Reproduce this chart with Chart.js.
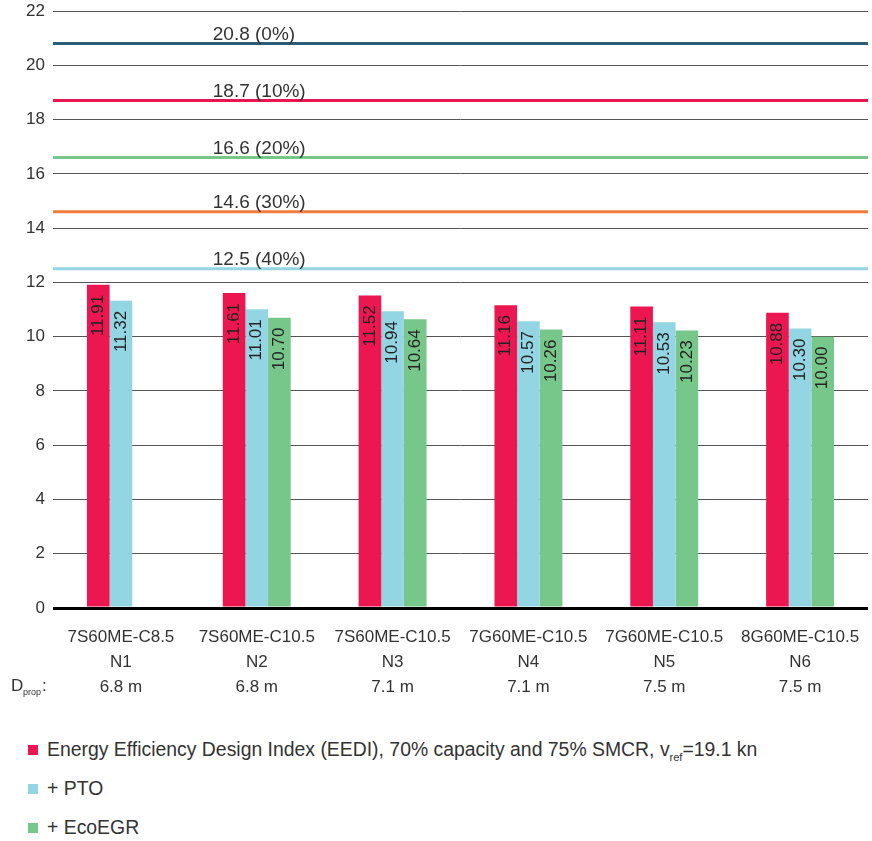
<!DOCTYPE html>
<html>
<head>
<meta charset="utf-8">
<script src="https://cdn.jsdelivr.net/npm/chart.js@4"></script>
<style>
  body { margin: 0; background: #fff; font-family: 'Liberation Sans', Arial, sans-serif; color: #333; }
  #wrap { width: 872px; height: 710px; }
  #legend { margin: 20px 0 0 0; padding: 0; list-style: none; }
  #legend li { position: relative; height: 39px; line-height: 39px; font-size: 19.4px; padding-left: 47px; }
  #legend li span.box { position: absolute; left: 28px; top: 15px; width: 10px; height: 10px; }
  #legend sub { font-size: 11px; vertical-align: -5px; }
</style>
</head>
<body>
<div id="wrap"><canvas id="myChart" width="872" height="710"></canvas></div>
<ul id="legend"></ul>
<script>
(() => {
  'use strict'

  const engines = ['7S60ME-C8.5', '7S60ME-C10.5', '7S60ME-C10.5', '7G60ME-C10.5', '7G60ME-C10.5', '8G60ME-C10.5']
  const names = ['N1', 'N2', 'N3', 'N4', 'N5', 'N6']
  const dprop = ['6.8 m', '6.8 m', '7.1 m', '7.1 m', '7.5 m', '7.5 m']

  const eedi = [11.91, 11.61, 11.52, 11.16, 11.11, 10.88]
  const pto = [11.32, 11.01, 10.94, 10.57, 10.53, 10.30]
  const ecoEgr = [null, 10.70, 10.64, 10.26, 10.23, 10.00]

  const refValues = [20.8, 18.7, 16.6, 14.6, 12.5]
  const refLabels = ['20.8 (0%)', '18.7 (10%)', '16.6 (20%)', '14.6 (30%)', '12.5 (40%)']
  const refColors = ['#2a5f78', '#e8174f', '#77c68a', '#f07b3a', '#93d5e3']

  const seriesNames = [
    'Energy Efficiency Design Index (EEDI), 70% capacity and 75% SMCR, v<sub>ref</sub>=19.1 kn',
    '+ PTO',
    '+ EcoEGR'
  ]
  const seriesColors = ['#ec1651', '#93d5e3', '#77c68a']

  const font = "'Liberation Sans', Arial, sans-serif"
  const textColor = '#333'

  const refLines = {
    id: 'refLines',
    afterDatasetsDraw (chart) {
      const { ctx, chartArea, scales } = chart
      const xLabel = scales.x.getPixelForValue(1) - 44
      ctx.save()
      refValues.forEach((v, i) => {
        const y = scales.y.getPixelForValue(v)
        ctx.strokeStyle = refColors[i]
        ctx.lineWidth = 3
        ctx.beginPath()
        ctx.moveTo(chartArea.left, y)
        ctx.lineTo(chartArea.right, y)
        ctx.stroke()
        ctx.fillStyle = textColor
        ctx.font = '19px ' + font
        ctx.textAlign = 'left'
        ctx.textBaseline = 'alphabetic'
        ctx.fillText(refLabels[i], xLabel, y - 4)
      })
      ctx.restore()
    }
  }

  const barValues = {
    id: 'barValues',
    afterDatasetsDraw (chart) {
      const { ctx } = chart
      ctx.save()
      ctx.fillStyle = '#222'
      ctx.font = '17px ' + font
      ctx.textAlign = 'right'
      ctx.textBaseline = 'middle'
      chart.data.datasets.forEach((ds, di) => {
        chart.getDatasetMeta(di).data.forEach((bar, i) => {
          if (ds.data[i] == null) return
          ctx.save()
          ctx.translate(bar.x, bar.y + 10)
          ctx.rotate(-Math.PI / 2)
          ctx.fillText(ds.data[i].toFixed(2), 0, 0)
          ctx.restore()
        })
      })
      ctx.restore()
    }
  }

  const dpropLabel = {
    id: 'dpropLabel',
    afterDraw (chart) {
      const { ctx } = chart
      ctx.save()
      ctx.fillStyle = textColor
      ctx.textBaseline = 'alphabetic'
      ctx.font = '17px ' + font
      ctx.fillText('D', 11, 691)
      ctx.font = '9px ' + font
      ctx.fillText('prop', 23, 695)
      ctx.font = '17px ' + font
      ctx.fillText(':', 42, 691)
      ctx.restore()
    }
  }

  const ctx = document.getElementById('myChart')
  new Chart(ctx, {
    type: 'bar',
    data: {
      labels: engines.map((e, i) => [e, names[i], dprop[i]]),
      datasets: [
        { label: 'EEDI', data: eedi, backgroundColor: seriesColors[0] },
        { label: '+ PTO', data: pto, backgroundColor: seriesColors[1] },
        { label: '+ EcoEGR', data: ecoEgr, backgroundColor: seriesColors[2] }
      ]
    },
    options: {
      responsive: false,
      animation: false,
      layout: { padding: { top: 11, right: 4 } },
      datasets: {
        bar: { categoryPercentage: 0.5, barPercentage: 1 }
      },
      scales: {
        x: {
          grid: { display: false },
          border: { display: false },
          ticks: {
            color: textColor,
            padding: 9,
            maxRotation: 0,
            font: { family: font, size: 17, lineHeight: 1.47 }
          },
          afterFit (s) { s.height = 102 }
        },
        y: {
          min: 0,
          max: 22,
          border: { display: false },
          grid: {
            drawTicks: false,
            color: c => c.tick.value === 0 ? '#000' : '#555',
            lineWidth: c => c.tick.value === 0 ? 3 : 1
          },
          ticks: {
            stepSize: 2,
            padding: 8,
            color: textColor,
            font: { family: font, size: 17 }
          },
          afterFit (s) { s.width = 53; s.paddingTop = 0 }
        }
      },
      plugins: {
        legend: { display: false },
        tooltip: { enabled: false }
      }
    },
    plugins: [refLines, barValues, dpropLabel]
  })

  const legend = document.getElementById('legend')
  seriesNames.forEach((name, i) => {
    const li = document.createElement('li')
    li.innerHTML = '<span class="box" style="background:' + seriesColors[i] + '"></span>' + name
    legend.appendChild(li)
  })
})()
</script>
</body>
</html>
